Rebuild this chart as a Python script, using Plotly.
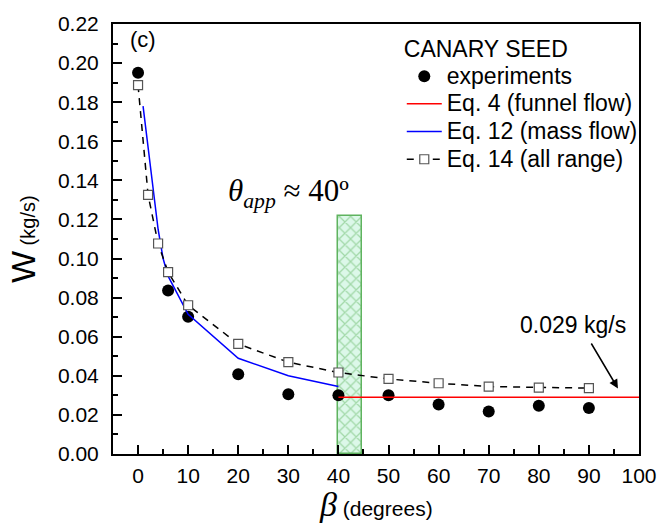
import plotly.graph_objects as go

# ---- data ----
exp_x = [0, 6, 10, 20, 30, 40, 50, 60, 70, 80, 90]
exp_y = [0.195, 0.0837, 0.0702, 0.0408, 0.0306, 0.0300, 0.0301, 0.0253, 0.0217, 0.0247, 0.0235]

eq4_x = [40, 100]
eq4_y = [0.029, 0.029]

eq12_x = [1, 2, 4, 5, 6, 10, 20, 30, 40]
eq12_y = [0.178, 0.157, 0.115, 0.100, 0.091, 0.0715, 0.049, 0.040, 0.0345]

eq14_x = [0, 2, 4, 6, 10, 20, 30, 40, 50, 60, 70, 80, 90]
eq14_y = [0.1887, 0.1326, 0.1077, 0.0931, 0.0761, 0.0563, 0.0470, 0.0417, 0.0384, 0.0362, 0.0345, 0.0340, 0.0337]

band_x0, band_x1, band_top = 40, 44.8, 0.122

x_ticks = list(range(0, 101, 10))
y_ticks = [round(0.02 * i, 2) for i in range(12)]

LEG = "<span style='font-size:23px'>{}</span>"

fig = go.Figure()

fig.add_trace(go.Bar(
    x=[(band_x0 + band_x1) / 2], y=[band_top], width=[band_x1 - band_x0], base=0,
    marker=dict(color="#d9f7e6", line=dict(color="#5fb35f", width=1.5),
                pattern=dict(shape="x", fgcolor="#68b868", bgcolor="#dcf8e9", size=8, solidity=0.3)),
    showlegend=False, hoverinfo="skip"))

fig.add_trace(go.Scatter(x=exp_x, y=exp_y, mode="markers", name=LEG.format("experiments"),
                         marker=dict(symbol="circle", size=12, color="black")))
fig.add_trace(go.Scatter(x=eq4_x, y=eq4_y, mode="lines", name=LEG.format("Eq. 4 (funnel flow)"),
                         line=dict(color="#ff0000", width=1.5)))
fig.add_trace(go.Scatter(x=eq12_x, y=eq12_y, mode="lines", name=LEG.format("Eq. 12 (mass flow)"),
                         line=dict(color="#0000ff", width=1.5)))
fig.add_trace(go.Scatter(x=eq14_x, y=eq14_y, mode="lines+markers", name=LEG.format("Eq. 14 (all range)"),
                         line=dict(color="black", width=1.5, dash="7px,6px"),
                         marker=dict(symbol="square", size=9, color="white",
                                     line=dict(color="#555555", width=1.2))))

axis_common = dict(showline=True, linecolor="black", linewidth=2, mirror=True,
                   ticks="inside", ticklen=9, tickwidth=1.5, tickcolor="black",
                   showgrid=False, zeroline=False,
                   tickfont=dict(family="Arial, Liberation Sans", size=21, color="black"))

fig.update_xaxes(range=[-5, 100], tickvals=x_ticks, ticktext=[str(v) for v in x_ticks],
                 minor=dict(dtick=5, tick0=0, ticks="inside", ticklen=5, tickwidth=1.5, tickcolor="black"),
                 ticklabelstandoff=2, **axis_common)
fig.update_yaxes(range=[0, 0.22], tickvals=y_ticks, ticktext=[f"{v:.2f}" for v in y_ticks],
                 minor=dict(dtick=0.01, tick0=0, ticks="inside", ticklen=5, tickwidth=1.5, tickcolor="black"),
                 ticklabelstandoff=8, **axis_common)

fig.update_layout(
    width=669, height=528,
    margin=dict(l=113, r=21, t=23, b=74),
    paper_bgcolor="white", plot_bgcolor="white",
    font=dict(family="Arial, Liberation Sans", color="black"),
    legend=dict(x=0.549, y=0.98, xanchor="left", yanchor="top",
                bgcolor="rgba(0,0,0,0)", borderwidth=0,
                title=dict(text=LEG.format("CANARY SEED"), font=dict(size=19)),
                font=dict(size=19), itemwidth=35, tracegroupgap=0),
    bargap=0,
)

fig.add_annotation(x=1, y=0.2122, xref="x", yref="y", text="(c)", showarrow=False,
                   font=dict(size=22, family="Arial, Liberation Sans"))
fig.add_annotation(x=30, y=0.1335, xref="x", yref="y",
                   text="<i>θ</i><sub><i>app</i></sub> ≈ 40º", showarrow=False,
                   font=dict(size=31, family="Liberation Serif, Times New Roman"))
fig.add_annotation(x=86.9, y=0.0658, xref="x", yref="y", text="0.029 kg/s", showarrow=False,
                   font=dict(size=23, family="Arial, Liberation Sans"))
fig.add_annotation(x=95.8, y=0.0335, xref="x", yref="y", ax=90.3, ay=0.0573,
                   axref="x", ayref="y", text="", showarrow=True,
                   arrowhead=2, arrowsize=1.2, arrowwidth=1.5, arrowcolor="black")

# axis titles
fig.add_annotation(x=-0.171, y=0.5, xref="paper", yref="paper", textangle=-90,
                   text="W<span style='font-size:20px'> (kg/s)</span>", showarrow=False,
                   font=dict(size=34, family="Arial, Liberation Sans"),
                   xanchor="center", yanchor="middle")
fig.add_annotation(x=0.5, y=-0.118, xref="paper", yref="paper",
                   text="<span style='font-family:Liberation Serif;font-size:34px'><i>β</i></span> (degrees)",
                   showarrow=False, font=dict(size=21, family="Arial, Liberation Sans"),
                   xanchor="center", yanchor="middle")

fig.write_html("out.html")
